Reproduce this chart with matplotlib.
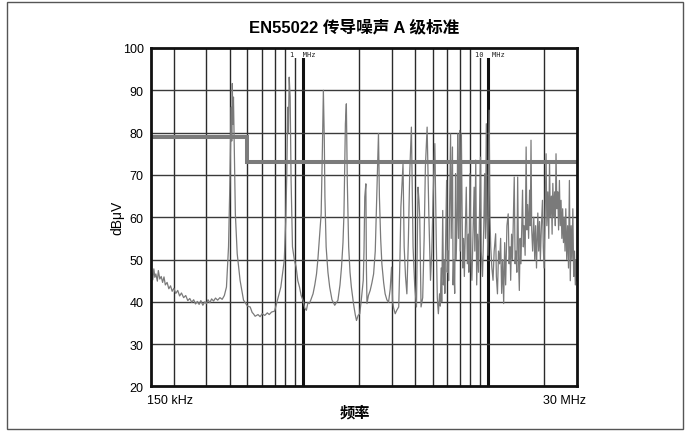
import matplotlib
matplotlib.use('Agg')
import matplotlib.pyplot as plt
from matplotlib.patches import Rectangle
from matplotlib.ticker import NullLocator

plt.rcParams['font.family'] = ['Liberation Sans', 'Noto Sans CJK SC', 'DejaVu Sans']

# ---------------- data ----------------
title = 'EN55022 传导噪声 A 级标准'
x_label = '频率'
y_label = 'dBμV'
x_start_label = '150 kHz'
x_end_label = '30 MHz'
y_ticks = [20, 30, 40, 50, 60, 70, 80, 90, 100]
grid_minor_freqs = [0.2, 0.3, 0.4, 0.5, 0.6, 0.7, 0.8, 0.9,
                    2, 3, 4, 5, 6, 7, 8, 9, 20]
marker_freqs = [1, 10]
marker_labels = ['1  MHz', '10  MHz']

limit_freq_mhz = [0.15, 0.5, 30]
limit_db = [79, 73, 73]

trace_freq_mhz = [
    0.150, 0.152, 0.154, 0.156, 0.158, 0.160, 0.163, 0.165, 0.168, 0.171,
    0.174, 0.177, 0.180, 0.184, 0.188, 0.192, 0.196, 0.200, 0.205, 0.210,
    0.215, 0.220, 0.226, 0.232, 0.238, 0.244, 0.250, 0.256, 0.262, 0.268,
    0.274, 0.280, 0.287, 0.294, 0.300, 0.306, 0.313, 0.320, 0.328, 0.336,
    0.345, 0.355, 0.365, 0.375, 0.385, 0.390, 0.395, 0.402, 0.406, 0.409,
    0.411, 0.414, 0.417, 0.420, 0.424, 0.430, 0.440, 0.456, 0.476, 0.500,
    0.517, 0.530, 0.538, 0.550, 0.570, 0.585, 0.600, 0.620, 0.640, 0.655,
    0.675, 0.700, 0.726, 0.757, 0.790, 0.805, 0.815, 0.825, 0.832, 0.840,
    0.850, 0.860, 0.875, 0.895, 0.916, 0.935, 0.955, 0.975, 0.996, 1.02,
    1.04, 1.06, 1.08, 1.10, 1.13, 1.155, 1.18, 1.20, 1.22, 1.25,
    1.27, 1.285, 1.30, 1.31, 1.33, 1.36, 1.39, 1.43, 1.48, 1.51,
    1.54, 1.58, 1.61, 1.64, 1.66, 1.69, 1.71, 1.73, 1.76, 1.79,
    1.82, 1.87, 1.91, 1.94, 1.98, 2.02, 2.06, 2.11, 2.13, 2.15,
    2.18, 2.195, 2.21, 2.25, 2.30, 2.35, 2.40, 2.45, 2.50, 2.55,
    2.58, 2.62, 2.66, 2.72, 2.77, 2.83, 2.89, 2.95, 3.00, 3.04,
    3.08, 3.14, 3.20, 3.28, 3.33, 3.37, 3.46, 3.51, 3.57, 3.63,
    3.70, 3.76, 3.84, 3.92, 4.00, 4.09, 4.17, 4.22, 4.26, 4.33,
    4.42, 4.50, 4.57, 4.67, 4.77, 4.87, 4.95, 5.03, 5.14, 5.23,
    5.30, 5.37, 5.45, 5.50, 5.56, 5.60, 5.67, 5.72, 5.78, 5.82,
    5.95, 6.00, 6.06, 6.10, 6.25, 6.30, 6.40, 6.45, 6.50, 6.58,
    6.65, 6.70, 6.78, 6.83, 6.90, 7.00, 7.05, 7.15, 7.22, 7.28,
    7.35, 7.42, 7.60, 7.70, 7.80, 7.85, 7.95, 8.05, 8.15, 8.25,
    8.38, 8.45, 8.55, 8.65, 8.75, 8.85, 9.07, 9.15, 9.30, 9.45,
    9.55, 9.65, 9.75, 9.82, 9.95, 10.1, 10.2, 10.3, 10.45, 10.6,
    10.75, 10.95, 11.05, 11.2, 11.35, 11.5, 11.65, 11.8, 11.95, 12.1,
    12.25, 12.4, 12.6, 12.8, 12.95, 13.1, 13.2, 13.35, 13.5, 13.8,
    13.95, 14.1, 14.25, 14.4, 14.55, 14.7, 14.85, 15.0, 15.3, 15.45,
    15.6, 15.8, 16.0, 16.15, 16.3, 16.5, 16.7, 16.85, 17.0, 17.15,
    17.35, 17.6, 17.8, 18.0, 18.2, 18.5, 18.7, 18.9, 19.1, 19.35,
    19.6, 19.8, 20.0, 20.2, 20.5, 20.7, 20.95, 21.2, 21.4, 21.6,
    21.9, 22.1, 22.3, 22.55, 22.8, 23.0, 23.2, 23.45, 23.7, 23.95,
    24.2, 24.45, 24.7, 24.95, 25.2, 25.45, 25.7, 25.95, 26.2, 26.5,
    26.8, 27.1, 27.4, 27.7, 28.0, 28.3, 28.6, 28.9, 29.2, 29.5,
    29.8, 30.0,
]
trace_db = [
    45.5, 46.8, 45.2, 47.8, 45.8, 46.6, 44.9, 47.4, 45.4, 46.0,
    44.6, 45.9, 44.0, 44.6, 43.1, 43.8, 42.5, 43.2, 42.0, 42.7,
    41.4, 42.1, 41.0, 41.5, 40.3, 40.8, 39.9, 40.5, 39.5, 40.1,
    39.4, 40.3, 39.2, 40.0, 39.6, 40.5, 39.8, 40.7, 40.2, 40.9,
    40.4, 41.0, 40.6, 41.5, 43.5, 48.2, 53.0, 68.7, 80.0, 86.0,
    78.0, 91.6, 82.0, 88.4, 76.6, 60.8, 51.4, 45.1, 40.4, 39.0,
    38.8, 37.5, 37.2, 36.6, 37.0, 36.5, 37.2, 36.8, 37.4, 37.0,
    37.6, 37.8, 40.4, 43.5, 49.8, 59.3, 70.0, 86.0, 80.0, 93.1,
    88.4, 68.8, 53.0, 50.0, 48.2, 45.0, 43.5, 41.5, 40.4, 38.5,
    38.0, 39.8, 39.6, 40.5, 41.9, 44.0, 46.6, 50.0, 54.5, 60.8,
    76.6, 90.0, 78.2, 64.8, 53.0, 47.0, 43.5, 40.5, 39.2, 39.8,
    40.4, 44.0, 48.2, 54.0, 60.8, 82.1, 86.8, 68.7, 53.0, 47.0,
    43.5, 39.5, 37.0, 35.6, 36.8, 37.2, 40.5, 45.1, 52.0, 64.8,
    67.9, 48.0, 39.6, 41.5, 42.7, 44.5, 46.6, 52.0, 66.4, 79.8,
    64.8, 55.0, 49.0, 44.5, 41.9, 40.5, 39.9, 43.0, 48.2, 40.0,
    38.5, 37.2, 38.0, 38.8, 50.0, 62.4, 72.6, 53.0, 46.0, 41.9,
    55.0, 70.3, 81.3, 53.0, 44.0, 38.8, 67.1, 64.0, 60.0, 38.8,
    41.0, 55.0, 71.9, 81.3, 60.8, 45.1, 52.0, 64.8, 77.4, 55.0,
    41.0, 37.2, 41.9, 39.0, 48.0, 40.0, 61.6, 44.0, 50.0, 42.0,
    68.7, 47.0, 52.0, 45.0, 79.7, 55.0, 76.6, 44.0, 50.0, 42.0,
    70.3, 50.0, 60.0, 79.7, 55.0, 80.5, 52.0, 79.7, 60.0, 48.0,
    55.0, 46.0, 67.1, 49.0, 56.0, 47.0, 70.3, 50.0, 45.1, 55.0,
    67.1, 52.0, 73.5, 44.0, 56.0, 47.0, 74.2, 52.0, 46.0, 58.0,
    70.3, 55.0, 82.1, 60.0, 51.0, 85.3, 60.0, 53.0, 48.0, 45.1,
    52.0, 56.1, 46.0, 41.9, 52.0, 49.0, 55.0, 42.0, 50.0, 39.6,
    54.0, 44.0, 58.0, 60.8, 49.0, 53.0, 45.1, 56.0, 50.0, 69.5,
    49.0, 52.0, 47.0, 69.5, 50.0, 42.7, 55.0, 49.0, 66.4, 53.0,
    58.0, 51.0, 76.6, 57.0, 63.0, 55.0, 66.4, 58.0, 78.2, 57.0,
    52.0, 60.0, 50.0, 58.0, 48.0, 61.0, 52.0, 59.0, 50.0, 58.0,
    64.0, 53.0, 48.0, 57.0, 75.0, 58.0, 66.0, 55.0, 73.4, 60.0,
    65.0, 56.0, 68.0, 60.0, 66.0, 58.0, 75.0, 62.0, 66.0, 57.0,
    68.7, 58.0, 64.0, 55.0, 62.0, 54.0, 60.0, 52.0, 62.0, 50.0,
    58.0, 48.0, 68.7, 45.0, 58.0, 50.0, 62.0, 46.0, 52.0, 44.0,
    50.0, 45.0,
]

# ---------------- figure ----------------
fig = plt.figure(figsize=(6.88, 4.35), dpi=100)
fig.patch.set_facecolor('white')
fig.patches.append(Rectangle((0.0102, 0.0115), 0.9825, 0.9816,
                             transform=fig.transFigure, fill=False,
                             ec='#555555', lw=1.0))

ax = fig.add_axes([0.219, 0.1092, 0.6192, 0.7782])
ax.set_xscale('log')
ax.set_xlim(0.15, 30)
ax.set_ylim(20, 100)

# grid
for f in grid_minor_freqs:
    ax.axvline(f, color='#2a2a2a', lw=1.0, zorder=1)
for f in marker_freqs:
    ax.axvline(f, color='#111111', lw=2.2, zorder=1)
for v in y_ticks[1:-1]:
    ax.axhline(v, color='#3a3a3a', lw=1.0, zorder=1)

# trace
ax.plot(trace_freq_mhz, trace_db, color='#7a7a7a', lw=0.9, zorder=2)

# limit
ax.step(limit_freq_mhz, limit_db, where='post', color='#7b7b7b',
        lw=2.9, zorder=3, solid_joinstyle='miter')

# marker labels
for f, lab in zip(marker_freqs, marker_labels):
    ax.text(f * 0.845, 99.4, lab, fontsize=5, family='DejaVu Sans Mono',
            ha='left', va='top', color='#222222', zorder=4,
            bbox=dict(facecolor='white', edgecolor='none', pad=1.2))

ax.set_yticks(y_ticks)
ax.set_yticklabels([str(v) for v in y_ticks], fontsize=9)
ax.set_xticks([])
ax.xaxis.set_minor_locator(NullLocator())
ax.tick_params(axis='y', length=0, pad=5)
for s in ax.spines.values():
    s.set_linewidth(2.0)
    s.set_color('#111111')
    s.set_zorder(5)

fig.text(0.2137, 0.079, x_start_label, fontsize=9, ha='left', va='center')
fig.text(0.8517, 0.079, x_end_label, fontsize=9, ha='right', va='center')
fig.text(0.516, 0.049, x_label, fontsize=11, fontweight='bold',
         ha='center', va='center')
fig.text(0.170, 0.499, y_label, fontsize=10, rotation=90,
         ha='center', va='center')
fig.text(0.515, 0.938, title, fontsize=12, fontweight='bold',
         ha='center', va='center')

fig.savefig('out.png', dpi=100)
